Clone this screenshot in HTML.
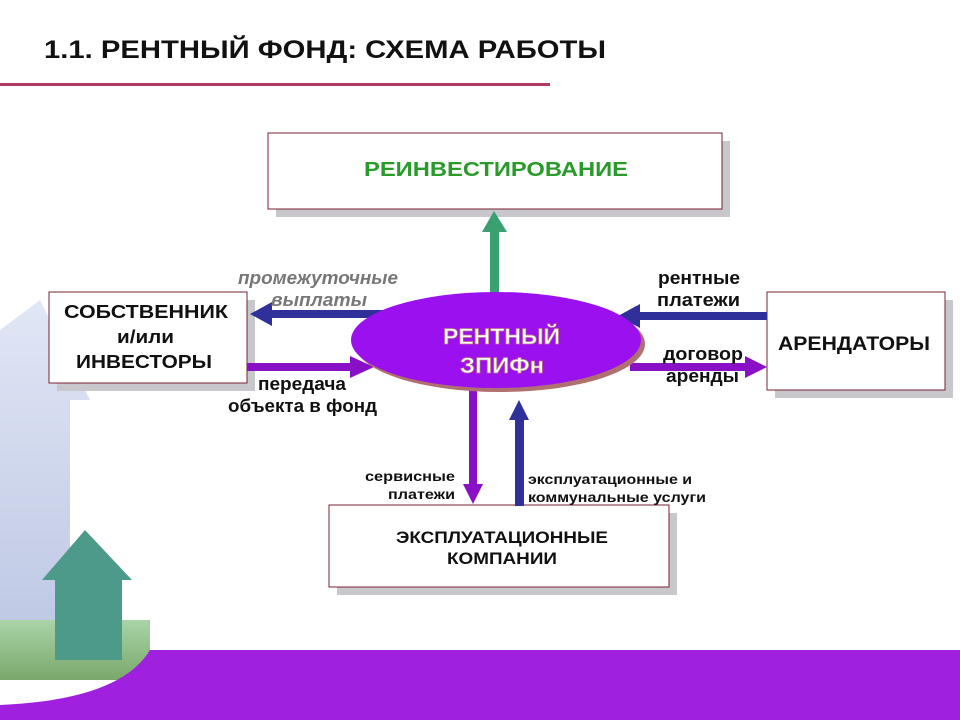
<!DOCTYPE html>
<html><head><meta charset="utf-8"><style>
body{margin:0;width:960px;height:720px;overflow:hidden;background:#fff}
svg{display:block}
text{font-family:"Liberation Sans","DejaVu Sans",sans-serif;font-weight:bold}
</style></head><body>
<svg width="960" height="720" viewBox="0 0 960 720">
<defs>
<linearGradient id="tw" x1="0" y1="0" x2="0" y2="1"><stop offset="0" stop-color="#d4dcf2"/><stop offset="1" stop-color="#9fadd6"/></linearGradient>
<linearGradient id="gr" x1="0" y1="0" x2="0" y2="1"><stop offset="0" stop-color="#a9d4a8"/><stop offset="1" stop-color="#7aa86a"/></linearGradient>
</defs>
<path d="M0 330 L40 300 L90 400 L70 400 L70 660 L0 660 Z" fill="url(#tw)" opacity="0.7"/>
<rect x="0" y="620" width="150" height="60" fill="url(#gr)"/>
<path d="M42 580 L85 530 L132 580 L122 580 L122 660 L55 660 L55 580 Z" fill="#4e9a8a"/>
<path d="M0 720 L0 705 Q120 700 150 650 L960 650 L960 720 Z" fill="#a020e0"/>
<text x="44" y="58" font-size="25" fill="#111" textLength="562" lengthAdjust="spacingAndGlyphs">1.1. РЕНТНЫЙ ФОНД: СХЕМА РАБОТЫ</text>
<rect x="0" y="83" width="550" height="3" fill="#b03a60"/>
<rect x="276" y="141" width="454" height="76" fill="#c8c8cc"/>
<rect x="268" y="133" width="454" height="76" fill="#fff" stroke="#7a2030"/>
<text x="364" y="176" font-size="20" fill="#2a9a2a" textLength="264" lengthAdjust="spacingAndGlyphs">РЕИНВЕСТИРОВАНИЕ</text>
<rect x="57" y="300" width="198" height="91" fill="#c8c8cc"/>
<rect x="49" y="292" width="198" height="91" fill="#fff" stroke="#7a2030"/>
<text font-size="18" fill="#111"><tspan x="64" y="318" textLength="164" lengthAdjust="spacingAndGlyphs">СОБСТВЕННИК</tspan><tspan x="117" y="343" textLength="57" lengthAdjust="spacingAndGlyphs">и/или</tspan><tspan x="76" y="368" textLength="136" lengthAdjust="spacingAndGlyphs">ИНВЕСТОРЫ</tspan></text>
<rect x="775" y="300" width="178" height="98" fill="#c8c8cc"/>
<rect x="767" y="292" width="178" height="98" fill="#fff" stroke="#7a2030"/>
<text x="778" y="350" font-size="19" fill="#111" textLength="152" lengthAdjust="spacingAndGlyphs">АРЕНДАТОРЫ</text>
<rect x="337" y="513" width="340" height="82" fill="#c8c8cc"/>
<rect x="329" y="505" width="340" height="82" fill="#fff" stroke="#7a2030"/>
<text font-size="17" fill="#111"><tspan x="396" y="543" textLength="212" lengthAdjust="spacingAndGlyphs">ЭКСПЛУАТАЦИОННЫЕ</tspan><tspan x="447" y="564" textLength="110" lengthAdjust="spacingAndGlyphs">КОМПАНИИ</tspan></text>
<rect x="490" y="230" width="9" height="64" fill="#3aa070"/>
<polygon points="482,232 507,232 494,211" fill="#3aa070"/>
<rect x="270" y="310" width="120" height="8" fill="#30309a"/>
<polygon points="272,302 272,326 250,314" fill="#30309a"/>
<rect x="247" y="363" width="110" height="8" fill="#8a10c8"/>
<polygon points="350,356 350,378 374,367" fill="#8a10c8"/>
<rect x="630" y="312" width="137" height="8" fill="#30309a"/>
<polygon points="640,304 640,328 618,316" fill="#30309a"/>
<rect x="630" y="363" width="120" height="8" fill="#8a10c8"/>
<polygon points="745,356 745,378 767,367" fill="#8a10c8"/>
<rect x="469" y="390" width="8" height="96" fill="#8a10c8"/>
<polygon points="463,484 483,484 473,504" fill="#8a10c8"/>
<rect x="515" y="418" width="9" height="88" fill="#30309a"/>
<polygon points="509,420 529,420 519,400" fill="#30309a"/>
<ellipse cx="500" cy="344" rx="145" ry="48" fill="#b07070"/>
<ellipse cx="496" cy="340" rx="145" ry="48" fill="#9a10ee"/>
<text font-size="22" fill="#fff" stroke="#c07080" stroke-width="0.7"><tspan x="443" y="344" textLength="117" lengthAdjust="spacingAndGlyphs">РЕНТНЫЙ</tspan><tspan x="460" y="373" textLength="84" lengthAdjust="spacingAndGlyphs">ЗПИФн</tspan></text>
<text font-size="18" fill="#777" font-style="italic" font-weight="normal"><tspan x="238" y="284" textLength="160" lengthAdjust="spacingAndGlyphs">промежуточные</tspan><tspan x="271" y="306" textLength="96" lengthAdjust="spacingAndGlyphs">выплаты</tspan></text>
<text font-size="18" fill="#111"><tspan x="258" y="390" textLength="88" lengthAdjust="spacingAndGlyphs">передача</tspan><tspan x="228" y="412" textLength="149" lengthAdjust="spacingAndGlyphs">объекта в фонд</tspan></text>
<text font-size="18" fill="#111"><tspan x="658" y="284" textLength="82" lengthAdjust="spacingAndGlyphs">рентные</tspan><tspan x="657" y="306" textLength="83" lengthAdjust="spacingAndGlyphs">платежи</tspan></text>
<text font-size="18" fill="#111"><tspan x="663" y="360" textLength="80" lengthAdjust="spacingAndGlyphs">договор</tspan><tspan x="666" y="382" textLength="73" lengthAdjust="spacingAndGlyphs">аренды</tspan></text>
<text font-size="14" fill="#111"><tspan x="365" y="481" textLength="90" lengthAdjust="spacingAndGlyphs">сервисные</tspan><tspan x="388" y="499" textLength="67" lengthAdjust="spacingAndGlyphs">платежи</tspan></text>
<text font-size="14" fill="#111"><tspan x="528" y="484" textLength="164" lengthAdjust="spacingAndGlyphs">эксплуатационные и</tspan><tspan x="528" y="502" textLength="178" lengthAdjust="spacingAndGlyphs">коммунальные услуги</tspan></text>
</svg>
</body></html>
